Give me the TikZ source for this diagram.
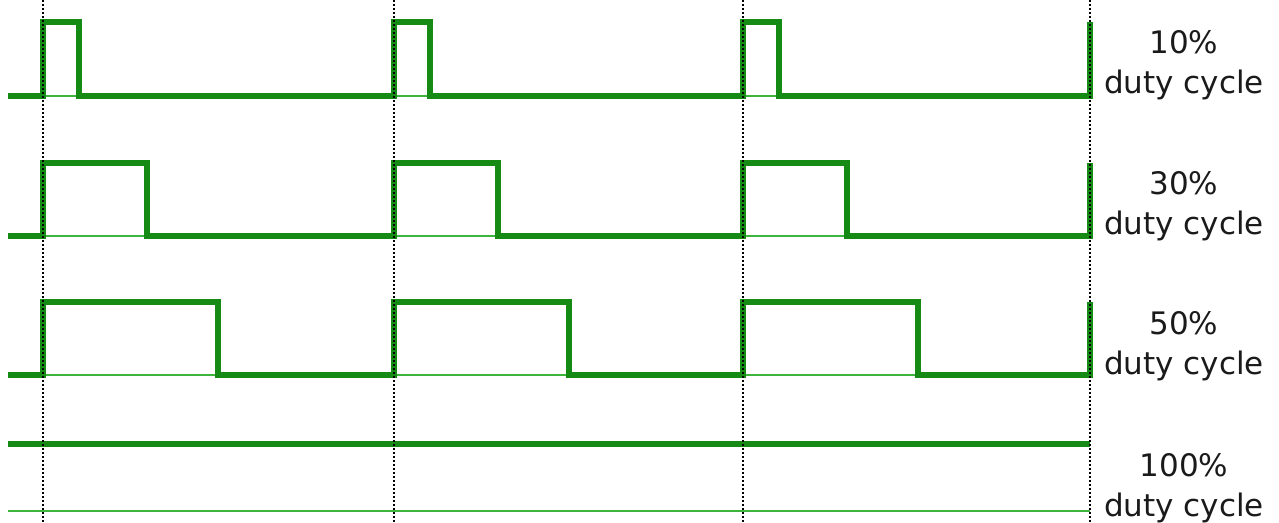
\documentclass[tikz,border=0pt]{standalone}
\usepackage{fontspec}
\setmainfont{DejaVu Sans}
\usepackage{xcolor}
\usepackage{tikz}
\usetikzlibrary{positioning}
\definecolor{Wave}{HTML}{158A15}
\definecolor{Base}{HTML}{3DB43D}
\definecolor{Ink}{HTML}{1A1A1A}
\tikzset{
  wave/.style={draw=Wave,line width=6pt,line join=miter},
  lowline/.style={draw=Base,line width=1.8pt},
  guide/.style={draw=black,line width=2pt,dotted},
  dutylabel/.style={align=center,inner sep=0pt,text=Ink,font=\fontsize{31}{40}\selectfont}
}
\begin{document}
\begin{tikzpicture}[x=1pt,y=-1pt]
  \useasboundingbox (0,0) rectangle (1279,522);
  % signals, one row per duty cycle
  \foreach \hi/\lo/\w/\pct/\ly in {22/96/36/10/65, 163/236/104/30/206, 302/375/175/50/346}{
    \draw[lowline] (8,\lo) -- (1090,\lo);
    \draw[wave] (8,\lo) \foreach \s in {43,394,743}{ -- (\s,\lo) -- (\s,\hi) -- ({\s+\w},\hi) -- ({\s+\w},\lo) } -- (1090,\lo) -- (1090,\hi);
    \node[dutylabel] (lab\pct) at (1184,\ly) {\pct\%\\duty cycle};
  }
  \draw[lowline] (8,511) -- (1090,511);
  \draw[wave] (8,444) -- (1090,444);
  \node[dutylabel] (lab100) at (1184,488) {100\%\\duty cycle};
  % period marks
  \foreach \s in {43,394,743,1090}
    \draw[guide] (\s,0) -- (\s,522);
\end{tikzpicture}
\end{document}
